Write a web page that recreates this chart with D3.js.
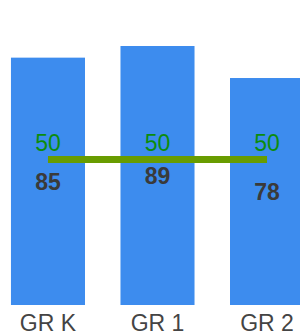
<!DOCTYPE html>
<html><head><meta charset="utf-8">
<script src="https://cdn.jsdelivr.net/npm/d3@7"></script>
<style>html,body{margin:0;padding:0;background:#fff;overflow:hidden}</style>
</head><body>
<svg id="c" width="300" height="334"></svg>
<script>
const categories = ["GR K", "GR 1", "GR 2"];
const values = [85, 89, 78];
const targets = [50, 50, 50];

const svg = d3.select("#c");
const x = d3.scaleBand().domain(categories).range([0, 315]).paddingInner(0.324).paddingOuter(0.1);
const y = d3.scaleLinear().domain([0, 100]).range([305, 14]);

svg.selectAll("rect.bar").data(values).join("rect")
  .attr("class","bar")
  .attr("x",(d,i)=>x(categories[i]))
  .attr("width",x.bandwidth())
  .attr("y",d=>y(d))
  .attr("height",d=>y(0)-y(d))
  .attr("fill","#3d8cee");

const line = d3.line().x((d,i)=>x(categories[i])+x.bandwidth()/2).y(d=>y(d));
svg.append("path").datum(targets).attr("d",line)
  .attr("fill","none").attr("stroke","#689c00").attr("stroke-width",7);

svg.selectAll("text.tgt").data(targets).join("text")
  .attr("class","tgt")
  .attr("x",(d,i)=>x(categories[i])+x.bandwidth()/2)
  .attr("y",d=>y(d)-8.5)
  .attr("text-anchor","middle")
  .attr("font-family","Liberation Sans, Arial, sans-serif")
  .attr("font-size",23)
  .attr("fill","#0c8c0c")
  .text(d=>d);

svg.selectAll("text.val").data(values).join("text")
  .attr("class","val")
  .attr("x",(d,i)=>x(categories[i])+x.bandwidth()/2)
  .attr("y",d=>(y(d)+y(0))/2)
  .attr("dy","0.36em")
  .attr("text-anchor","middle")
  .attr("font-family","Liberation Sans, Arial, sans-serif")
  .attr("font-weight","bold")
  .attr("font-size",23)
  .attr("fill","#3a3a3a")
  .text(d=>d);

const xAxis = d3.axisBottom(x).tickSize(0).tickPadding(0);
const gx = svg.append("g").attr("transform","translate(0,330.5)").call(xAxis);
gx.select(".domain").remove();
gx.selectAll("text")
  .attr("dy",0)
  .attr("font-family","Liberation Sans, Arial, sans-serif")
  .attr("font-size",23)
  .attr("fill","#444");
</script>
</body></html>
